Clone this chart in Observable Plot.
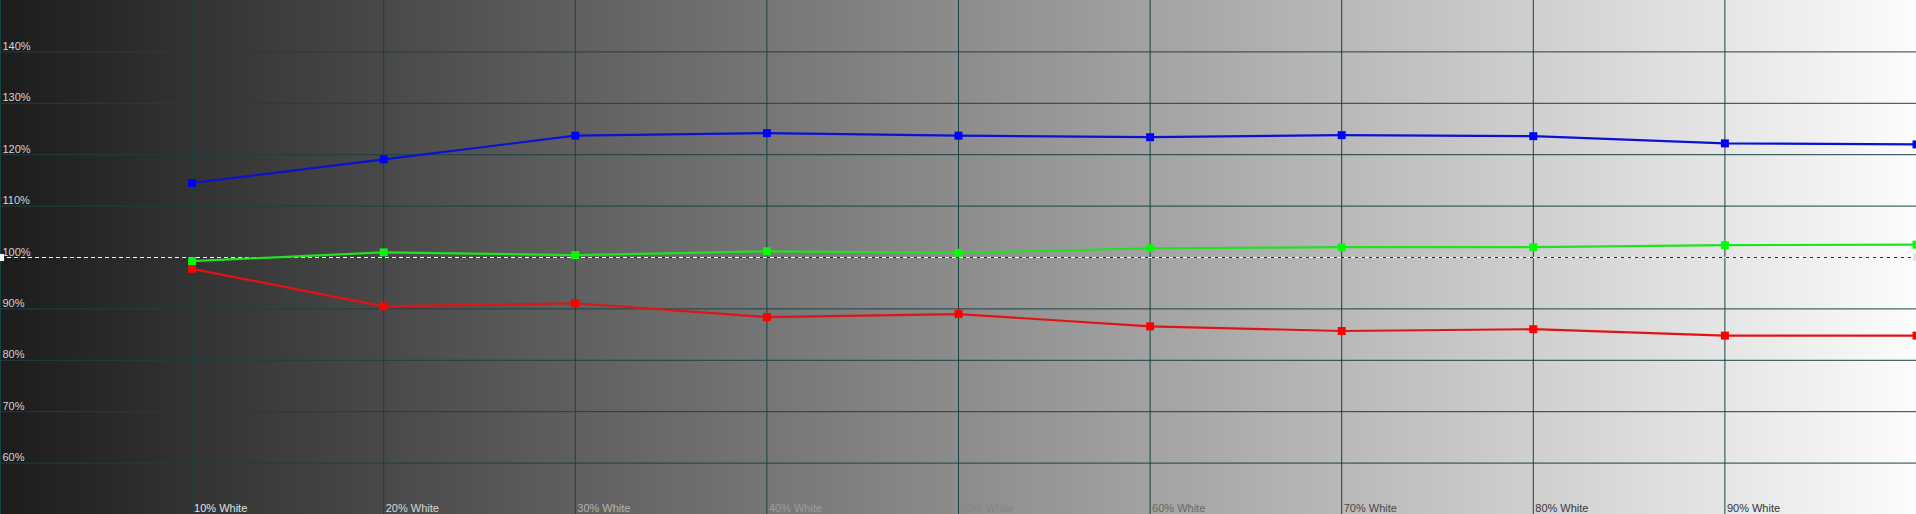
<!DOCTYPE html>
<html>
<head>
<meta charset="utf-8">
<script src="https://cdn.jsdelivr.net/npm/d3@7"></script>
<script src="https://cdn.jsdelivr.net/npm/@observablehq/plot@0.6"></script>
<style>
  html, body { margin: 0; padding: 0; background: #fff; overflow: hidden; }
  #chart svg { display: block; }
</style>
</head>
<body>
<div id="chart"></div>
<script>
// ---- data ----
const stimulus = [10, 20, 30, 40, 50, 60, 70, 80, 90, 100];
const blueValues  = [114.5, 119.1, 123.7, 124.2, 123.7, 123.4, 123.8, 123.6, 122.2, 122.0];
const greenValues = [99.3, 101.0, 100.45, 101.2, 100.9, 101.8, 102.0, 102.0, 102.4, 102.5];
const redValues   = [97.8, 90.5, 91.1, 88.4, 89.0, 86.6, 85.7, 86.05, 84.8, 84.8];
const yTicks = [60, 70, 80, 90, 100, 110, 120, 130, 140];
const xTicks = [10, 20, 30, 40, 50, 60, 70, 80, 90];
const xTickLabels = ["10% White", "20% White", "30% White", "40% White", "50% White", "60% White", "70% White", "80% White", "90% White"];
const reference = 100;

// ---- styles ----
const xLabelColors = ["#e2e2e2", "#d8d8d8", "#b4b4b4", "#9c9c9c", "#858585", "#686868", "#474747", "#383838", "#333333"];
const gridColor = "#1b4242";

const series = [
  {name: "Red", values: redValues, line: "#e01414", marker: "#ff0000"},
  {name: "Green", values: greenValues, line: "#22e022", marker: "#00ff00"},
  {name: "Blue", values: blueValues, line: "#0a12d2", marker: "#0000ff"}
];

const rows = series.flatMap(s => stimulus.map((x, i) => ({series: s.name, x, y: s.values[i], line: s.line, marker: s.marker})));
const gridX = [0, ...xTicks];
const gridY = yTicks.filter(v => v !== reference);
const xLabelRows = xTicks.map((x, i) => ({x, label: xTickLabels[i], color: xLabelColors[i]}));

const marks = [
  Plot.ruleY(gridY, {y: d => d, stroke: gridColor, strokeWidth: 1}),
  Plot.ruleX(gridX, {x: d => d, stroke: gridColor, strokeWidth: 1}),
  // reference line (two-tone dashed)
  Plot.ruleY([reference], {x1: 0, x2: 100, y: d => d, stroke: "#1a3434", strokeWidth: 1}),
  Plot.ruleY([reference], {x1: 0, x2: 100, y: d => d, stroke: "#ffffff", strokeWidth: 1, strokeDasharray: "4,3"}),
  Plot.dot([0, 100], {x: d => d, y: () => reference, symbol: "square", r: 4, fill: (d, i) => i === 0 ? "#f4f4f4" : "#e4e4e4", stroke: null}),
  // y tick labels
  Plot.text(yTicks, {x: 0, y: d => d, text: d => d + "%", textAnchor: "start", lineAnchor: "bottom", dx: 2, dy: -2, fill: "#d4d4d4", fontSize: 11}),
  // x tick labels
  Plot.text(xLabelRows, {x: "x", y: 50, text: "label", textAnchor: "start", lineAnchor: "bottom", dx: 2, dy: -3, fill: "color", fontSize: 11}),
  // series lines
  ...series.map(s => Plot.line(rows.filter(r => r.series === s.name), {x: "x", y: "y", stroke: s.line, strokeWidth: 2.2})),
  ...series.map(s => Plot.dot(rows.filter(r => r.series === s.name), {x: "x", y: "y", symbol: "square", r: 4.5, fill: s.marker, stroke: null}))
];

const chart = Plot.plot({
  width: 1916,
  height: 514,
  margin: 0,
  x: {domain: [0, 100], axis: null},
  y: {domain: [50, 150], axis: null},
  style: {
    background: "linear-gradient(to right, #1c1c1c 0%, #fcfcfc 100%)",
    fontFamily: "'Liberation Sans', Arial, sans-serif",
    fontSize: "11px",
    overflow: "hidden"
  },
  marks
});
document.getElementById("chart").appendChild(chart);
</script>
</body>
</html>
